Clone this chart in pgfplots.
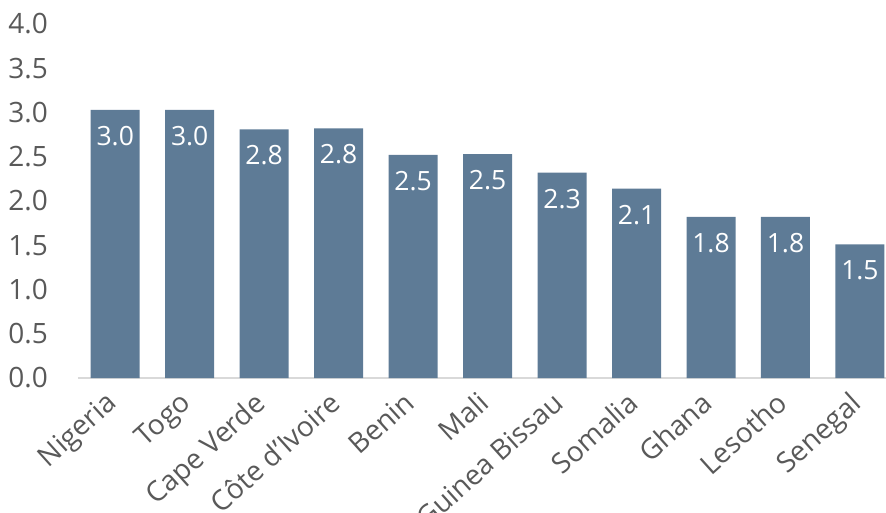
\documentclass[border=0pt]{standalone}
\usepackage{fontspec}
\setmainfont{Open Sans}
\usepackage{pgfplots}
\pgfplotsset{compat=1.18}
\definecolor{barc}{HTML}{5E7B96}
\definecolor{txt}{HTML}{595959}
\definecolor{axl}{HTML}{D9D9D9}
\begin{document}
\begin{tikzpicture}
\useasboundingbox (-78pt,-134pt) rectangle (808pt,378pt);
\begin{axis}[
  at={(0pt,0pt)}, anchor=south west,
  scale only axis, width=808pt, height=354pt,
  xmin=-0.5, xmax=10.35, ymin=0, ymax=4,
  axis x line*=bottom, axis y line*=left,
  y axis line style={draw=none},
  x axis line style={draw=axl, line width=1.6pt, -},
  major tick length=0pt, tick style={draw=none},
  ytick={0,0.5,1,1.5,2,2.5,3,3.5,4},
  /pgf/number format/assume math mode=true,
  yticklabel style={/pgf/number format/fixed, /pgf/number format/fixed zerofill, /pgf/number format/precision=1,
    font=\fontsize{28}{33}\selectfont, text=txt, anchor=east, inner sep=0pt, xshift=-30pt},
  xtick={0,...,10},
  xticklabels={Nigeria,Togo,Cape Verde,Côte d’Ivoire,Benin,Mali,Guinea Bissau,Somalia,Ghana,Lesotho,Senegal},
  xticklabel style={font=\fontsize{28}{33}\selectfont, text=txt, inner sep=0pt, xshift=-11pt, yshift=-12pt, rotate=42, anchor=north east},
  nodes near coords,
  point meta=explicit symbolic,
  nodes near coords style={font=\fontsize{26.5}{31}\selectfont, text=white, anchor=center, yshift=-26pt},
  clip=false,
]
\addplot[ybar, bar width=49pt, bar shift=0pt, fill=barc, draw=none] table[meta=lab] {
x y lab
0 3.03 3.0
1 3.03 3.0
2 2.81 2.8
3 2.82 2.8
4 2.52 2.5
5 2.53 2.5
6 2.32 2.3
7 2.14 2.1
8 1.82 1.8
9 1.82 1.8
10 1.51 1.5
};
\end{axis}
\end{tikzpicture}
\end{document}
